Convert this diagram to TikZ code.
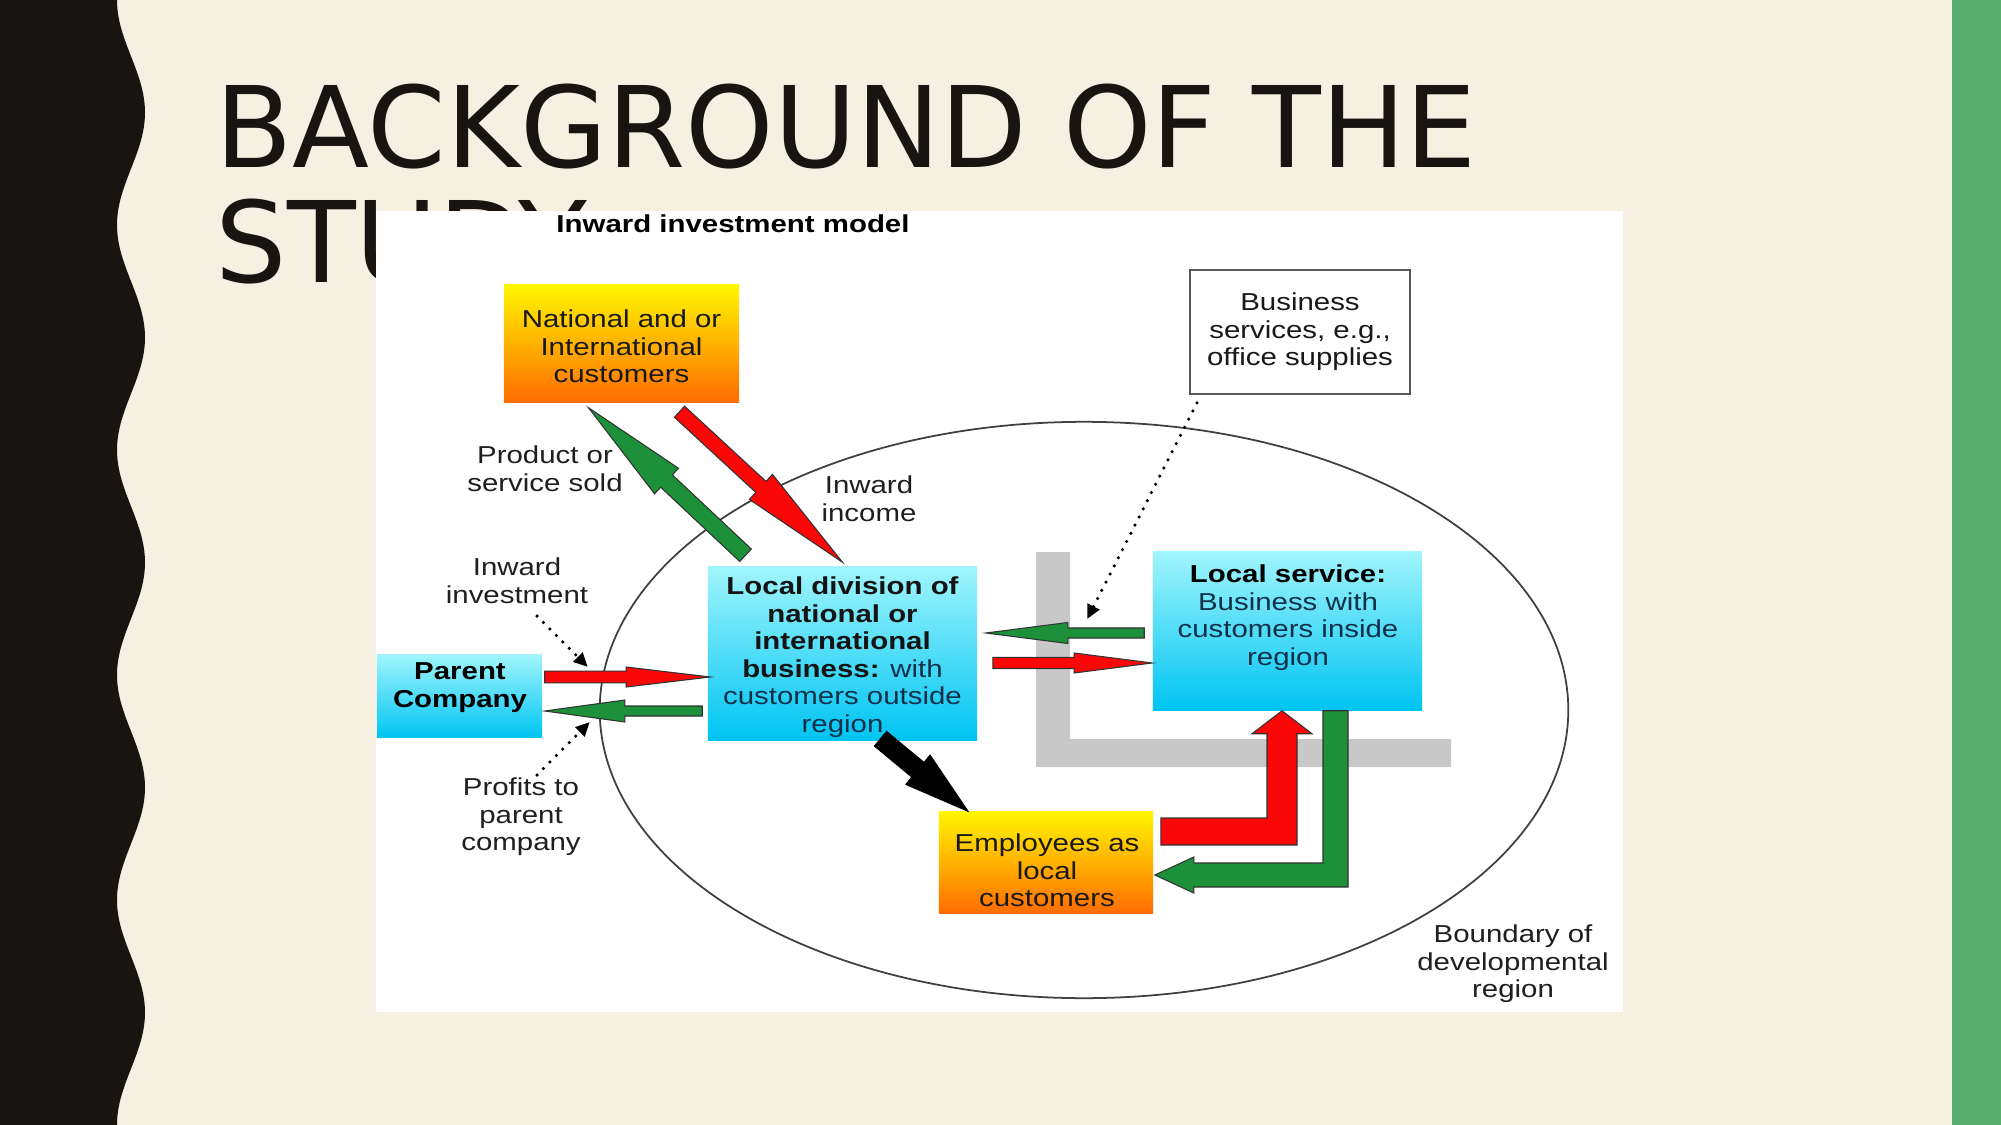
\documentclass[tikz,border=0pt]{standalone}
\usepackage{fontspec}
\setmainfont{Liberation Sans}[FakeStretch=1.2]
\newfontfamily\titlefont{DejaVu Sans}
\usetikzlibrary{calc,arrows.meta}
\definecolor{cream}{RGB}{245,240,226}
\definecolor{inkblack}{RGB}{24,20,18}
\definecolor{bandgreen}{RGB}{86,174,111}
\definecolor{arrred}{RGB}{250,8,8}
\definecolor{arrgreen}{RGB}{28,145,58}
\definecolor{navy}{RGB}{16,48,74}
\definecolor{lgrey}{RGB}{200,200,200}
\definecolor{ytop}{RGB}{255,246,0}
\definecolor{ybot}{RGB}{255,108,0}
\definecolor{ctop}{RGB}{160,245,252}
\definecolor{cbot}{RGB}{0,196,242}
\newcommand\diagfont{\fontsize{6.97}{7.85}\selectfont}
% style, tail, tip, half shaft, half head, head length
\newcommand\blockarrow[6]{%
  \coordinate (bah) at ($(#3)!#6!(#2)$);
  \draw[#1] ($(#2)!#4!90:(#3)$) -- ($(bah)!#4!90:(#3)$) -- ($(bah)!#5!90:(#3)$) -- (#3)
    -- ($(bah)!#5!-90:(#3)$) -- ($(bah)!#4!-90:(#3)$) -- ($(#2)!#4!-90:(#3)$) -- cycle;}
\tikzset{
  ybox/.style   = {top color=ytop, bottom color=ybot, inner sep=0pt, align=center,
                   font=\diagfont, text=black!90},
  cbox/.style   = {top color=ctop, bottom color=cbot, inner sep=0pt, align=center,
                   font=\diagfont, text=black!92},
  wbox/.style   = {draw=black!65, line width=0.45pt, fill=white, inner sep=0pt,
                   align=center, font=\diagfont, text=black!90},
  btxt/.style   = {inner sep=0pt, align=center, font=\diagfont, anchor=north},
  lbl/.style    = {inner sep=0pt, align=center, font=\diagfont, text=black!88, anchor=north},
  dotarr/.style = {line width=1pt, line cap=round, dash pattern=on 0pt off 2.6pt,
                   -{Triangle[length=4pt,width=3.6pt]}},
  redarr/.style = {fill=arrred, draw=black!80, line width=0.3pt},
  grnarr/.style = {fill=arrgreen, draw=black!80, line width=0.3pt},
  blkarr/.style = {fill=black, draw=black, line width=0.3pt},
}
\begin{document}
\begin{tikzpicture}[x=0.01cm, y=-0.01cm]
  \useasboundingbox (0,0) rectangle (2001,1125);
  \fill[cream] (0,0) rectangle (2001,1125);
  \fill[inkblack] (0,0) -- plot[domain=0:1125, samples=151, smooth] ({131-14*cos(1.6*\x)},\x) -- (0,1125) -- cycle;
  \fill[bandgreen] (1952,0) rectangle (2001,1125);
  \node[anchor=north west, inner sep=0pt, align=left, text=inkblack,
        font=\titlefont\fontsize{32}{32.7}\selectfont] (ttl) at (215,83) {BACKGROUND OF THE\\STUDY};
  \fill[white] (376,211) rectangle (1623,1012);

  \node[font=\diagfont\bfseries, anchor=base, inner sep=0pt] (mdl) at (733,233) {Inward investment model};
  \draw[line width=0.5pt, black!75] (1084,710) ellipse [x radius=4.84cm, y radius=2.88cm];
  \fill[lgrey] (1036,552) -- (1070,552) -- (1070,739) -- (1451,739) -- (1451,767) -- (1036,767) -- cycle;

  \node[ybox, minimum width=2.35cm, minimum height=1.17cm] (natl) at (621.5,343.5) {};
  \node[btxt, text=black!90] (natlT) at (621.5,309) {National and or\\International\\customers};
  \node[wbox, minimum width=2.2cm, minimum height=1.24cm] (bsvc) at (1300,332) {Business\\services, e.g.,\\office supplies};
  \node[cbox, minimum width=2.69cm, minimum height=1.73cm] (ldiv) at (842.5,653.5) {};
  \node[btxt, text=black!92] (ldivT) at (842.5,576)
    {\textbf{Local division of}\\\textbf{national or}\\\textbf{international}\\\textbf{business:} \textcolor{navy}{with}\\\textcolor{navy}{customers outside}\\\textcolor{navy}{region}};
  \node[cbox, minimum width=1.65cm, minimum height=0.82cm] (parent) at (459.5,696) {};
  \node[btxt, font=\diagfont\bfseries] (parentT) at (460,662) {Parent\\Company};
  \node[cbox, minimum width=2.69cm, minimum height=1.58cm] (lsrv) at (1287.5,631) {};
  \node[btxt, text=navy] (lsrvT) at (1288,564) {\textcolor{black}{\textbf{Local service:}}\\Business with\\customers inside\\region};
  \node[ybox, minimum width=2.14cm, minimum height=1.01cm] (empl) at (1046,862.5) {};
  \node[btxt, text=black!90] (emplT) at (1047,833) {Employees as\\local\\customers};

  \node[lbl] (lblSold) at (545,445) {Product or\\service sold};
  \node[lbl] (lblInc) at (869,475) {Inward\\income};
  \node[lbl] (lblInv) at (517,557) {Inward\\investment};
  \node[lbl] (lblProf) at (521,777) {Profits to\\parent\\company};
  \node[lbl] (lblBnd) at (1513,924) {Boundary of\\developmental\\region};

  \coordinate (soldT) at ($(ldiv.north)+(-97,-11)$);
  \coordinate (soldH) at ($(natl.south)+(-33,5)$);
  \coordinate (incT) at ($(natl.south)+(58,9)$);
  \coordinate (incH) at ($(ldiv.north)+(0,-4)$);
  \coordinate (invT) at ($(parent.east)+(2,-19)$);
  \coordinate (invH) at ($(ldiv.west)+(3,23.5)$);
  \coordinate (proT) at ($(ldiv.west)+(-5,57.5)$);
  \coordinate (proH) at ($(parent.east)+(2,15)$);
  \coordinate (spT) at ($(lsrv.west)+(-8,2)$);
  \coordinate (spH) at ($(ldiv.east)+(8,-20.5)$);
  \coordinate (sbT) at ($(ldiv.east)+(15,9.5)$);
  \coordinate (sbH) at ($(lsrv.west)+(0,32)$);
  \coordinate (empT) at ($(ldiv.south)+(38,-2)$);
  \coordinate (empH) at ($(empl.north)+(-78,0)$);
  \blockarrow{grnarr}{soldT}{soldH}{0.085cm}{0.175cm}{1.07cm}
  \blockarrow{redarr}{incT}{incH}{0.075cm}{0.17cm}{1.11cm}
  \blockarrow{redarr}{invT}{invH}{0.058cm}{0.10cm}{0.84cm}
  \blockarrow{grnarr}{proT}{proH}{0.05cm}{0.11cm}{0.80cm}
  \blockarrow{grnarr}{spT}{spH}{0.05cm}{0.105cm}{0.82cm}
  \blockarrow{redarr}{sbT}{sbH}{0.055cm}{0.10cm}{0.78cm}
  \blockarrow{blkarr}{empT}{empH}{0.095cm}{0.19cm}{0.65cm}

  \coordinate (rlT) at ($(empl.east)+(7,-31)$);
  \coordinate (rlH) at ($(lsrv.south)+(-5.5,0)$);
  \draw[redarr] ($(rlT)+(0,-13.5)$) -- ($(rlH |- rlT)+(-15,-13.5)$) -- ($(rlH)+(-15,23)$) -- ($(rlH)+(-30,23)$)
    -- (rlH) -- ($(rlH)+(30,23)$) -- ($(rlH)+(15,23)$) -- ($(rlH |- rlT)+(15,13.5)$) -- ($(rlT)+(0,13.5)$) -- cycle;
  \coordinate (glT) at ($(lsrv.south)+(48,0)$);
  \coordinate (glH) at ($(empl.east)+(1,12.5)$);
  \draw[grnarr] ($(glT)+(-12.5,0)$) -- ($(glT |- glH)+(-12.5,-12)$) -- ($(glH)+(39,-12)$) -- ($(glH)+(39,-18)$)
    -- (glH) -- ($(glH)+(39,18)$) -- ($(glH)+(39,12)$) -- ($(glT |- glH)+(12.5,12)$) -- ($(glT)+(12.5,0)$) -- cycle;

  \coordinate (invD) at ($(parent.east)+(45,-29)$);
  \coordinate (proD) at ($(parent.east)+(47,26)$);
  \coordinate (bsD) at ($(lsrv.west)+(-65,-12)$);
  \draw[dotarr] ($(lblInv.south)+(20,12)$) -- (invD);
  \draw[dotarr] ($(lblProf.north)+(16,-2)$) -- (proD);
  \draw[dotarr] ($(bsvc.south)+(-103,8)$) -- (bsD);
\end{tikzpicture}
\end{document}
